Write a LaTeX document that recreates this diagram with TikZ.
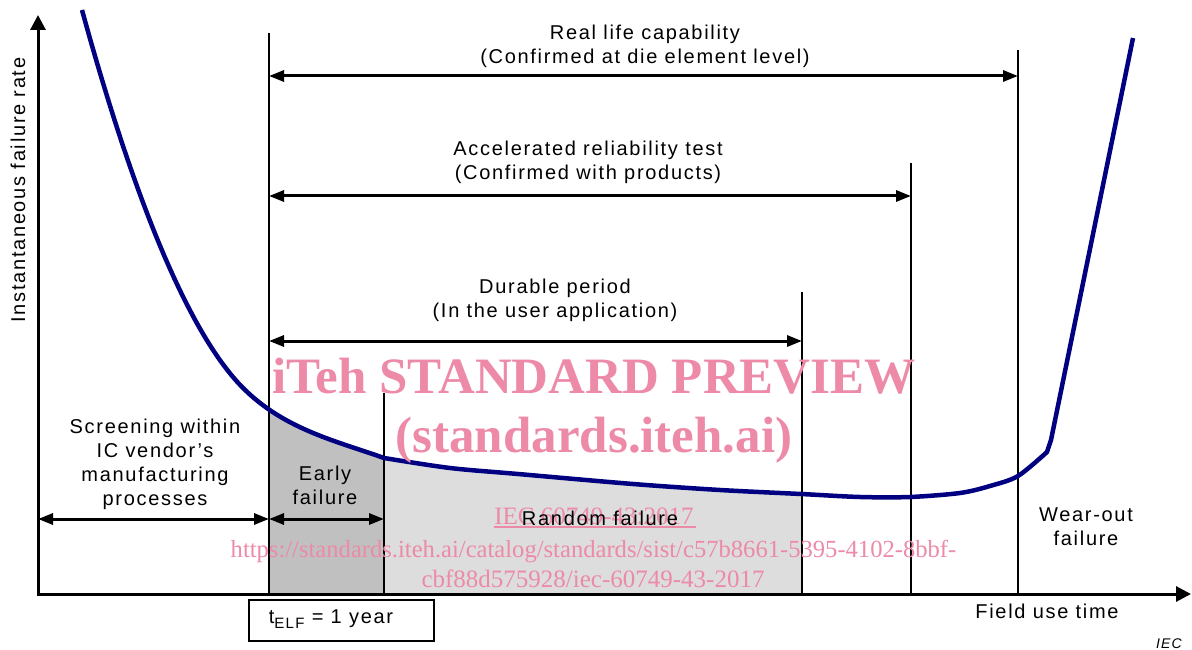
\documentclass[tikz,border=0pt]{standalone}
\usepackage{fontspec}
\setmainfont{Liberation Sans}[LetterSpace=8.5]
\newfontfamily\wmfont{Liberation Serif}
\usetikzlibrary{arrows.meta}
\definecolor{curveblue}{RGB}{0,0,128}
\definecolor{darkfill}{RGB}{192,192,192}
\definecolor{lightfill}{RGB}{221,221,221}
\definecolor{wmpink}{RGB}{236,138,168}
\begin{document}
\begin{tikzpicture}[x=1pt,y=-1pt,
  lbl/.style={inner sep=0pt, font=\fontsize{20}{24}\selectfont, align=center},
  vline/.style={line width=2pt},
  dimarrow/.style={line width=3pt, {Triangle[length=15pt,width=11pt]}-{Triangle[length=15pt,width=11pt]}},
  axisline/.style={line width=3pt, {Triangle[length=15pt,width=15pt]}-{Triangle[length=15pt,width=15pt]}},
  curveline/.style={line width=4.5pt, draw=curveblue, line join=round},
  wm/.style={inner sep=0pt, text=wmpink, font=\wmfont\fontsize{25}{30}\selectfont},
  wmbig/.style={inner sep=0pt, text=wmpink, font=\wmfont\bfseries\fontsize{51}{60}\selectfont}]
\useasboundingbox (0,0) rectangle (1192,650);

% shaded regions
\begin{scope}
  \clip (269,0) rectangle (384,594);
  \fill[darkfill] (82,10) .. controls (132,192) and (183,318) .. (233,377)
     .. controls (276,428) and (334,440) .. (384,458) -- (384,594) -- (82,594) -- cycle;
\end{scope}
\begin{scope}
  \clip (384,0) rectangle (802,594);
  \fill[lightfill] plot[smooth] coordinates {(384,458) (450,468) (518,474) (633,484) (720,490) (801,494) (860,497) (910,497) (960,493) (990,486) (1018,476) (1047,452)} -- (1047,594) -- (384,594) -- cycle;
\end{scope}

% coordinates
\coordinate (origin) at (38,594);
\coordinate (ytip) at (38,15);
\coordinate (xtip) at (1191,594);
\coordinate (v1t) at (269,33);   \coordinate (v1b) at (269,594);
\coordinate (v2t) at (384,393);  \coordinate (v2b) at (384,594);
\coordinate (v3t) at (802,292);  \coordinate (v3b) at (802,594);
\coordinate (v4t) at (911,163);  \coordinate (v4b) at (911,594);
\coordinate (v5t) at (1018,50);  \coordinate (v5b) at (1018,594);
\coordinate (rlA) at (269,76);   \coordinate (rlB) at (1018,76);
\coordinate (arA) at (269,196);  \coordinate (arB) at (911,196);
\coordinate (dpA) at (269,341);  \coordinate (dpB) at (802,341);
\coordinate (scA) at (38,519);   \coordinate (scB) at (269,519);
\coordinate (efA) at (269,519);  \coordinate (efB) at (384,519);

% vertical lines
\draw[vline] (v1t) -- (v1b);
\draw[vline] (v2t) -- (v2b);
\draw[vline] (v3t) -- (v3b);
\draw[vline] (v4t) -- (v4b);
\draw[vline] (v5t) -- (v5b);

% bathtub curve
\draw[curveline] (82,10) .. controls (132,192) and (183,318) .. (233,377)
     .. controls (276,428) and (334,440) .. (384,458)
  -- plot[smooth] coordinates {(384,458) (450,468) (518,474) (633,484) (720,490) (801,494) (860,497) (910,497) (960,493) (990,486) (1018,476) (1047,452)}
  -- (1051,440) -- (1133,38);

% axes
\draw[axisline] (ytip) -- (origin) -- (xtip);

% dimension arrows
\draw[dimarrow] (rlA) -- (rlB);
\draw[dimarrow] (arA) -- (arB);
\draw[dimarrow] (dpA) -- (dpB);
\draw[dimarrow] (scA) -- (scB);
\draw[dimarrow] (efA) -- (efB);

% labels
\node[lbl] (reallife) at (645,46) {Real life capability\\(Confirmed at die element level)};
\node[lbl] (accel) at (588,162) {Accelerated reliability test\\(Confirmed with products)};
\node[lbl] (durable) at (555,300) {Durable period\\(In the user application)};
\node[lbl] (screening) at (155,464) {Screening within\\IC vendor’s\\manufacturing\\processes};
\node[lbl] (early) at (325,485) {Early\\failure};
\node[lbl] (wearout) at (1086,527) {Wear-out\\failure};
\node[lbl, anchor=base] (fieldtime) at (1047,618) {Field use time};
\node[lbl, anchor=base, rotate=90] (yaxislabel) at (25,190) {Instantaneous failure rate};
\node[inner sep=0pt, anchor=base, font=\itshape\fontsize{14}{16}\selectfont] (iec) at (1169,648) {IEC};
\node[draw, line width=2pt, minimum width=185pt, minimum height=41pt, inner sep=0pt] (telfbox) at (341.5,620.5) {};
\node[lbl, anchor=base] (telf) at (331,623) {t\raisebox{-5pt}{\fontsize{15}{15}\selectfont ELF} = 1 year};

% watermark
\node[wmbig, anchor=base] (wm1) at (594,393) {iTeh STANDARD PREVIEW};
\node[wmbig, anchor=base] (wm2) at (594,452) {(standards.iteh.ai)};
\node[wm, anchor=base] (wm3) at (594,524) {IEC 60749-43:2017};
\draw[wmpink, line width=1.2pt] (wm3.base west) ++(0,3) -- ++(202,0);
\node[wm, anchor=base, font=\wmfont\fontsize{24.6}{30}\selectfont] (wm4) at (593.5,557) {https://standards.iteh.ai/catalog/standards/sist/c57b8661-5395-4102-8bbf-};
\node[wm, anchor=base] (wm5) at (593,587) {cbf88d575928/iec-60749-43-2017};

\node[lbl, anchor=base] (random) at (600,525) {Random failure};
\end{tikzpicture}
\end{document}
